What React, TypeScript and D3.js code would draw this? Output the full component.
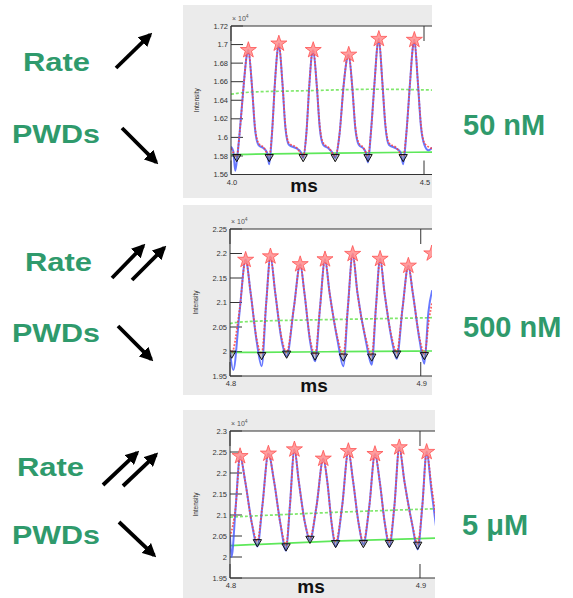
import React from 'react';
import * as d3 from 'd3';

type Pt = [number, number];

const concLabels = ['50 nM', '500 nM', '5 μM'];
const rateLabel = 'Rate';
const pwdLabel = 'PWDs';
const xAxisTitle = 'ms';
const yAxisTitle = 'Intensity';
const expLabel = '× 10';
const expSup = '4';

// ---------- Panel 1 (50 nM) ----------
const p1XTicks = [4.0, 4.5];
const p1XTickLabels = ['4.0', '4.5'];
const p1YTicks = [1.56, 1.58, 1.6, 1.62, 1.64, 1.66, 1.68, 1.7, 1.72];
const p1YTickLabels = ['1.56', '1.58', '1.6', '1.62', '1.64', '1.66', '1.68', '1.7', '1.72'];
const p1PeakT = [4.045, 4.124, 4.213, 4.305, 4.383, 4.475];
const p1PeakV = [1.694, 1.701, 1.694, 1.689, 1.706, 1.705];
const p1TroughT = [4.015, 4.099, 4.187, 4.270, 4.355, 4.446];
const p1TroughV = [1.580, 1.580, 1.580, 1.580, 1.580, 1.580];
const p1Trace: Pt[] = [
  [4.000, 1.590], [4.006, 1.585], [4.011, 1.564], [4.016, 1.578], [4.022, 1.603], [4.033, 1.657], [4.041, 1.689], [4.045, 1.694],
  [4.054, 1.657], [4.062, 1.610], [4.071, 1.592], [4.085, 1.588], [4.093, 1.584], [4.099, 1.571],
  [4.106, 1.603], [4.114, 1.660], [4.120, 1.692], [4.124, 1.701],
  [4.133, 1.660], [4.141, 1.610], [4.150, 1.592], [4.170, 1.588], [4.181, 1.584], [4.187, 1.578],
  [4.195, 1.603], [4.203, 1.657], [4.209, 1.688], [4.213, 1.694],
  [4.222, 1.657], [4.230, 1.610], [4.239, 1.592], [4.253, 1.588], [4.262, 1.584], [4.270, 1.578],
  [4.281, 1.603], [4.292, 1.657], [4.300, 1.684], [4.305, 1.689],
  [4.314, 1.655], [4.322, 1.610], [4.331, 1.592], [4.343, 1.588], [4.349, 1.584], [4.355, 1.573],
  [4.362, 1.603], [4.372, 1.660], [4.379, 1.698], [4.383, 1.706],
  [4.392, 1.660], [4.400, 1.612], [4.409, 1.592], [4.428, 1.588], [4.439, 1.584], [4.446, 1.571],
  [4.454, 1.603], [4.464, 1.660], [4.471, 1.697], [4.475, 1.705],
  [4.484, 1.660], [4.492, 1.612], [4.501, 1.592], [4.512, 1.586], [4.521, 1.589],
];
const p1Fit: Pt[] = [
  [4.000, 1.588], [4.015, 1.580], [4.022, 1.603], [4.033, 1.657], [4.041, 1.689], [4.045, 1.694], [4.054, 1.657], [4.062, 1.612], [4.071, 1.594], [4.085, 1.589], [4.099, 1.580],
  [4.106, 1.603], [4.114, 1.660], [4.120, 1.692], [4.124, 1.701], [4.133, 1.660], [4.141, 1.612], [4.150, 1.594], [4.170, 1.589], [4.187, 1.580],
  [4.195, 1.603], [4.203, 1.657], [4.209, 1.688], [4.213, 1.694], [4.222, 1.657], [4.230, 1.612], [4.239, 1.594], [4.253, 1.589], [4.270, 1.580],
  [4.281, 1.603], [4.292, 1.657], [4.300, 1.684], [4.305, 1.689], [4.314, 1.655], [4.322, 1.612], [4.331, 1.594], [4.343, 1.589], [4.355, 1.580],
  [4.362, 1.603], [4.372, 1.660], [4.379, 1.698], [4.383, 1.706], [4.392, 1.660], [4.400, 1.614], [4.409, 1.594], [4.428, 1.589], [4.446, 1.580],
  [4.454, 1.603], [4.464, 1.660], [4.471, 1.697], [4.475, 1.705], [4.484, 1.660], [4.492, 1.614], [4.501, 1.594], [4.521, 1.588],
];
const p1Base: Pt[] = [[4.0, 1.5815], [4.25, 1.5830], [4.521, 1.5842]];
const p1Thresh: Pt[] = [[4.0, 1.6465], [4.05, 1.6495], [4.2, 1.6500], [4.35, 1.6525], [4.521, 1.6510]];

// ---------- Panel 2 (500 nM) ----------
const p2XTicks = [4.8, 4.9];
const p2XTickLabels = ['4.8', '4.9'];
const p2YTicks = [1.95, 2.0, 2.05, 2.1, 2.15, 2.2, 2.25];
const p2YTickLabels = ['1.95', '2', '2.05', '2.1', '2.15', '2.2', '2.25'];
const p2PeakT = [4.8082, 4.8212, 4.8368, 4.8498, 4.8643, 4.8787, 4.8935, 4.9058];
const p2PeakV = [2.187, 2.194, 2.178, 2.188, 2.199, 2.189, 2.175, 2.200];
const p2TroughT = [4.8009, 4.8166, 4.8297, 4.8446, 4.8594, 4.8743, 4.8874, 4.9019];
const p2TroughV = [1.998, 1.995, 1.998, 1.994, 1.992, 1.992, 1.998, 1.995];
const p2Trace: Pt[] = [
  [4.8000, 2.000], [4.8017, 1.962], [4.8050, 2.080], [4.8082, 2.188],
  [4.8108, 2.120], [4.8140, 2.020], [4.8166, 1.970], [4.8190, 2.100], [4.8212, 2.194],
  [4.8237, 2.120], [4.8272, 2.020], [4.8297, 1.990], [4.8335, 2.090], [4.8368, 2.178],
  [4.8390, 2.120], [4.8420, 2.020], [4.8446, 1.980], [4.8472, 2.090], [4.8498, 2.188],
  [4.8522, 2.120], [4.8565, 2.020], [4.8594, 1.970], [4.8618, 2.090], [4.8643, 2.199],
  [4.8668, 2.120], [4.8713, 2.020], [4.8743, 1.973], [4.8765, 2.090], [4.8787, 2.189],
  [4.8810, 2.120], [4.8850, 2.020], [4.8874, 1.985], [4.8905, 2.090], [4.8935, 2.175],
  [4.8958, 2.120], [4.8995, 2.020], [4.9019, 1.975], [4.9040, 2.080], [4.9060, 2.125],
];
const p2Fit: Pt[] = [
  [4.8000, 2.003], [4.8009, 1.998], [4.8050, 2.085], [4.8082, 2.187],
  [4.8108, 2.120], [4.8140, 2.025], [4.8166, 1.995], [4.8190, 2.100], [4.8212, 2.194],
  [4.8237, 2.120], [4.8272, 2.025], [4.8297, 1.998], [4.8335, 2.090], [4.8368, 2.178],
  [4.8390, 2.120], [4.8420, 2.025], [4.8446, 1.994], [4.8472, 2.090], [4.8498, 2.188],
  [4.8522, 2.120], [4.8565, 2.025], [4.8594, 1.992], [4.8618, 2.090], [4.8643, 2.199],
  [4.8668, 2.120], [4.8713, 2.025], [4.8743, 1.992], [4.8765, 2.090], [4.8787, 2.189],
  [4.8810, 2.120], [4.8850, 2.025], [4.8874, 1.998], [4.8905, 2.090], [4.8935, 2.175],
  [4.8958, 2.120], [4.8995, 2.025], [4.9019, 1.995], [4.9045, 2.070], [4.9060, 2.100],
];
const p2Base: Pt[] = [[4.8, 1.998], [4.85, 1.9995], [4.906, 2.001]];
const p2Thresh: Pt[] = [[4.8, 2.057], [4.806, 2.062], [4.85, 2.065], [4.906, 2.069]];

// ---------- Panel 3 (5 μM) ----------
const p3XTicks = [4.8, 4.9];
const p3XTickLabels = ['4.8', '4.9'];
const p3YTicks = [1.95, 2.0, 2.05, 2.1, 2.15, 2.2, 2.25, 2.3];
const p3YTickLabels = ['1.95', '2', '2.05', '2.1', '2.15', '2.2', '2.25', '2.3'];
const p3PeakT = [4.8053, 4.8202, 4.8339, 4.8491, 4.8623, 4.8763, 4.8891, 4.9035];
const p3PeakV = [2.240, 2.246, 2.256, 2.234, 2.252, 2.245, 2.261, 2.250];
const p3TroughT = [4.8144, 4.8295, 4.8421, 4.8556, 4.8702, 4.8839, 4.8988];
const p3TroughV = [2.038, 2.028, 2.046, 2.036, 2.036, 2.036, 2.032];
const p3Trace: Pt[] = [
  [4.8000, 2.050], [4.8008, 2.000], [4.8030, 2.120], [4.8053, 2.240],
  [4.8080, 2.180], [4.8115, 2.080], [4.8144, 2.025], [4.8170, 2.120], [4.8202, 2.246],
  [4.8232, 2.180], [4.8265, 2.080], [4.8295, 2.015], [4.8315, 2.120], [4.8339, 2.256],
  [4.8362, 2.180], [4.8395, 2.080], [4.8421, 2.040], [4.8455, 2.120], [4.8491, 2.234],
  [4.8512, 2.180], [4.8535, 2.080], [4.8556, 2.025], [4.8590, 2.120], [4.8623, 2.252],
  [4.8648, 2.180], [4.8677, 2.080], [4.8702, 2.030], [4.8733, 2.120], [4.8763, 2.245],
  [4.8788, 2.180], [4.8815, 2.080], [4.8839, 2.025], [4.8865, 2.120], [4.8891, 2.261],
  [4.8918, 2.180], [4.8958, 2.080], [4.8988, 2.018], [4.9012, 2.120], [4.9035, 2.250],
  [4.9060, 2.160], [4.9085, 2.070],
];
const p3Fit: Pt[] = [
  [4.8000, 2.048], [4.8030, 2.120], [4.8053, 2.240],
  [4.8080, 2.180], [4.8115, 2.080], [4.8144, 2.038], [4.8170, 2.120], [4.8202, 2.246],
  [4.8232, 2.180], [4.8265, 2.080], [4.8295, 2.028], [4.8315, 2.120], [4.8339, 2.256],
  [4.8362, 2.180], [4.8395, 2.080], [4.8421, 2.046], [4.8455, 2.120], [4.8491, 2.234],
  [4.8512, 2.180], [4.8535, 2.080], [4.8556, 2.036], [4.8590, 2.120], [4.8623, 2.252],
  [4.8648, 2.180], [4.8677, 2.080], [4.8702, 2.036], [4.8733, 2.120], [4.8763, 2.245],
  [4.8788, 2.180], [4.8815, 2.080], [4.8839, 2.036], [4.8865, 2.120], [4.8891, 2.261],
  [4.8918, 2.180], [4.8958, 2.080], [4.8988, 2.032], [4.9012, 2.120], [4.9035, 2.250],
  [4.9060, 2.170], [4.9085, 2.090],
];
const p3Base: Pt[] = [[4.8, 2.027], [4.85, 2.038], [4.909, 2.045]];
const p3Thresh: Pt[] = [[4.8, 2.095], [4.85, 2.106], [4.909, 2.115]];

const GREEN_TEXT = '#2f9a6c';
const FONT = 'Liberation Sans, Arial, Helvetica, sans-serif';

interface PanelCfg {
  id: string;
  bg: { x: number; y: number; w: number; h: number };
  px0: number; px1: number; py0: number; py1: number;
  xDomain: [number, number];
  yDomain: [number, number];
  xTicks: number[]; xTickLabels: string[];
  yTicks: number[]; yTickLabels: string[];
  peakT: number[]; peakV: number[];
  troughT: number[]; troughV: number[];
  trace: Pt[]; fit: Pt[]; base: Pt[]; thresh: Pt[];
  msX: number; msY: number;
}

const panels: PanelCfg[] = [
  {
    id: 'p1', bg: { x: 183, y: 5, w: 249, h: 193 },
    px0: 231, px1: 432, py0: 26, py1: 174.5,
    xDomain: [4.0, 4.5207], yDomain: [1.56, 1.72],
    xTicks: p1XTicks, xTickLabels: p1XTickLabels, yTicks: p1YTicks, yTickLabels: p1YTickLabels,
    peakT: p1PeakT, peakV: p1PeakV, troughT: p1TroughT, troughV: p1TroughV,
    trace: p1Trace, fit: p1Fit, base: p1Base, thresh: p1Thresh, msX: 304, msY: 192,
  },
  {
    id: 'p2', bg: { x: 183, y: 205, w: 249, h: 190 },
    px0: 230, px1: 432, py0: 229, py1: 376,
    xDomain: [4.8, 4.9059], yDomain: [1.95, 2.25],
    xTicks: p2XTicks, xTickLabels: p2XTickLabels, yTicks: p2YTicks, yTickLabels: p2YTickLabels,
    peakT: p2PeakT, peakV: p2PeakV, troughT: p2TroughT, troughV: p2TroughV,
    trace: p2Trace, fit: p2Fit, base: p2Base, thresh: p2Thresh, msX: 314, msY: 392,
  },
  {
    id: 'p3', bg: { x: 183, y: 410, w: 252, h: 188 },
    px0: 230, px1: 435, py0: 431, py1: 578,
    xDomain: [4.8, 4.9079], yDomain: [1.95, 2.3],
    xTicks: p3XTicks, xTickLabels: p3XTickLabels, yTicks: p3YTicks, yTickLabels: p3YTickLabels,
    peakT: p3PeakT, peakV: p3PeakV, troughT: p3TroughT, troughV: p3TroughV,
    trace: p3Trace, fit: p3Fit, base: p3Base, thresh: p3Thresh, msX: 311, msY: 593,
  },
];

const starPath = d3.symbol().type(d3.symbolStar).size(80)() as string;
const triPath = d3.symbol().type(d3.symbolTriangle).size(30)() as string;

function Panel({ c }: { c: PanelCfg }) {
  const x = d3.scaleLinear().domain(c.xDomain).range([c.px0, c.px1]);
  const y = d3.scaleLinear().domain(c.yDomain).range([c.py1, c.py0]);
  const curved = d3.line<Pt>().x(d => x(d[0])).y(d => y(d[1])).curve(d3.curveMonotoneX);
  const smooth = d3.line<Pt>().x(d => x(d[0])).y(d => y(d[1])).curve(d3.curveBasis);
  const clipId = `clip-${c.id}`;
  const tickLen = 12;
  return (
    <g>
      <rect x={c.bg.x} y={c.bg.y} width={c.bg.w} height={c.bg.h} fill="#ebebeb" />
      <rect x={c.px0} y={c.py0} width={c.px1 - c.px0} height={c.py1 - c.py0} fill="#ffffff" />
      <defs>
        <clipPath id={clipId}>
          <rect x={c.px0} y={c.py0 - 10} width={c.px1 - c.px0} height={c.py1 - c.py0 + 10} />
        </clipPath>
      </defs>
      {c.yTicks.map((t, i) => (
        <g key={`yt${i}`}>
          <line x1={c.px0} x2={c.px0 + tickLen} y1={y(t)} y2={y(t)} stroke="#333" strokeWidth={1} />
          <text x={c.px0 - 3} y={y(t) + 2.6} fontSize={7.5} fill="#333" textAnchor="end" fontFamily={FONT}>{c.yTickLabels[i]}</text>
        </g>
      ))}
      {c.xTicks.map((t, i) => (
        <g key={`xt${i}`}>
          <line x1={x(t)} x2={x(t)} y1={c.py0} y2={c.py0 + 15} stroke="#333" strokeWidth={1} />
          <line x1={x(t)} x2={x(t)} y1={c.py1} y2={c.py1 - 14} stroke="#333" strokeWidth={1} />
          <text x={x(t) + 1} y={c.py1 + 10} fontSize={7.5} fill="#333" textAnchor="middle" fontFamily={FONT}>{c.xTickLabels[i]}</text>
        </g>
      ))}
      <g clipPath={`url(#${clipId})`}>
        <path d={smooth(c.base) || ''} fill="none" stroke="#5ee85a" strokeWidth={1.7} />
        <path d={smooth(c.thresh) || ''} fill="none" stroke="#80e86c" strokeWidth={1.7} strokeDasharray="3,2" />
        <path d={curved(c.trace) || ''} fill="none" stroke="#4258ff" strokeWidth={2} strokeOpacity={0.8} />
        <path d={curved(c.fit) || ''} fill="none" stroke="#ff3a3a" strokeWidth={1.8} strokeDasharray="1.8,1.6" strokeOpacity={0.8} />
        {c.troughT.map((t, i) => (
          <path key={`tr${i}`} d={triPath} transform={`translate(${x(t)},${y(c.troughV[i]) + 1}) rotate(180)`} fill="rgba(90,90,90,0.35)" stroke="#111" strokeWidth={1} />
        ))}
        {c.peakT.map((t, i) => (
          <path key={`pk${i}`} d={starPath} transform={`translate(${x(t)},${y(c.peakV[i])})`} fill="#ff8c8c" fillOpacity={0.85} stroke="#ff5050" strokeWidth={0.8} />
        ))}
      </g>
      <line x1={c.px0} x2={c.px1} y1={c.py0} y2={c.py0} stroke="#333" strokeWidth={1} />
      <line x1={c.px0} x2={c.px1} y1={c.py1} y2={c.py1} stroke="#333" strokeWidth={1} />
      <line x1={c.px0} x2={c.px0} y1={c.py0} y2={c.py1} stroke="#333" strokeWidth={1} />
      <text x={c.px0 + 1} y={c.py0 - 5} fontSize={7} fill="#555" fontFamily={FONT}>
        {expLabel}<tspan fontSize={5} dy={-3}>{expSup}</tspan>
      </text>
      <text transform={`translate(${c.px0 - 32},${(c.py0 + c.py1) / 2}) rotate(-90)`} fontSize={6.5} fill="#333" textAnchor="middle" fontFamily={FONT}>{yAxisTitle}</text>
      <text x={c.msX} y={c.msY} fontSize={19} fontWeight="bold" fill="#111" textAnchor="middle" fontFamily={FONT}>{xAxisTitle}</text>
    </g>
  );
}

interface ArrowSpec { x1: number; y1: number; x2: number; y2: number }
const arrowSets: ArrowSpec[][] = [
  [{ x1: 116, y1: 68, x2: 156, y2: 29 }, { x1: 122, y1: 128, x2: 162, y2: 168 }],
  [{ x1: 112, y1: 278, x2: 149, y2: 240 }, { x1: 132, y1: 280, x2: 170, y2: 242 }, { x1: 118, y1: 326, x2: 157, y2: 365 }],
  [{ x1: 103, y1: 485, x2: 143, y2: 447 }, { x1: 123, y1: 486, x2: 162, y2: 449 }, { x1: 119, y1: 522, x2: 160, y2: 561 }],
];

const leftText = [
  { rateX: 23, rateY: 71, pwdX: 12, pwdY: 143 },
  { rateX: 25, rateY: 271, pwdX: 12, pwdY: 342 },
  { rateX: 17, rateY: 476, pwdX: 12, pwdY: 544 },
];
const rightText = [
  { x: 463, y: 135 },
  { x: 463, y: 337 },
  { x: 462, y: 535 },
];

export default function App() {
  return (
    <svg width={573} height={598} viewBox="0 0 573 598" style={{ position: 'absolute', left: 0, top: 0, display: 'block', background: '#fff' }}>
      <defs>
        <marker id="ah" viewBox="0 0 10 10" refX="8" refY="5" markerWidth="3.6" markerHeight="3.6" orient="auto" markerUnits="strokeWidth">
          <path d="M0,0 L10,5 L0,10 Z" fill="#000" />
        </marker>
      </defs>
      <rect x={0} y={0} width={573} height={598} fill="#fff" />
      {panels.map(p => <Panel key={p.id} c={p} />)}
      {arrowSets.map((set, si) => set.map((a, ai) => {
        const dx = a.x2 - a.x1, dy = a.y2 - a.y1;
        const L = Math.hypot(dx, dy);
        const ex = a.x2 - dx / L * 8, ey = a.y2 - dy / L * 8;
        return <line key={`a${si}-${ai}`} x1={a.x1} y1={a.y1} x2={ex} y2={ey} stroke="#000" strokeWidth={3.8} markerEnd="url(#ah)" />;
      }))}
      {leftText.map((t, i) => (
        <g key={`lt${i}`} fontFamily={FONT} fontWeight="bold" fill={GREEN_TEXT}>
          <text x={t.rateX} y={t.rateY} fontSize={26} textLength={67} lengthAdjust="spacingAndGlyphs">{rateLabel}</text>
          <text x={t.pwdX} y={t.pwdY} fontSize={25} textLength={88} lengthAdjust="spacingAndGlyphs">{pwdLabel}</text>
        </g>
      ))}
      {rightText.map((t, i) => (
        <text key={`rt${i}`} x={t.x} y={t.y} fontSize={29} fontWeight="bold" fill={GREEN_TEXT} fontFamily={FONT}>{concLabels[i]}</text>
      ))}
    </svg>
  );
}
